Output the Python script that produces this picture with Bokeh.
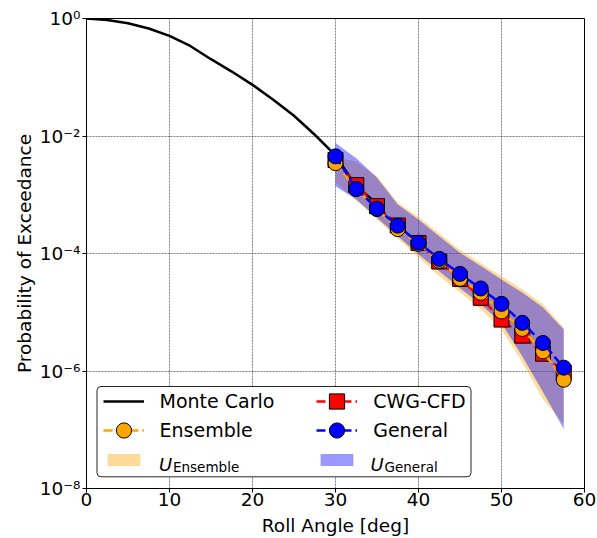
from bokeh.plotting import figure
from bokeh.models import FixedTicker, Legend, LegendItem, Label, BoxAnnotation, Range1d
from bokeh.embed import file_html
from bokeh.resources import INLINE

# ---- data ----
mc_angle = [0, 2.5, 5, 7.5, 10, 12.5, 15, 17.5, 20, 22.5, 25, 27.5, 30, 32.5, 35]
mc_prob = [1.0, 0.94, 0.828, 0.676, 0.505, 0.341, 0.203, 0.125, 0.0743, 0.0413,
           0.0221, 0.0105, 0.00468, 0.00138, 0.00071]

angle = [30, 32.5, 35, 37.5, 40, 42.5, 45, 47.5, 50, 52.5, 55, 57.5]
ensemble = [3.45e-3, 1.25e-3, 5.7e-4, 2.6e-4, 1.46e-4, 7.5e-5, 3.7e-5, 2.14e-5, 1.03e-5, 5.2e-6, 2.16e-6, 7.1e-7]
cwg_cfd = [3.9e-3, 1.46e-3, 6.4e-4, 3.0e-4, 1.51e-4, 7.3e-5, 3.7e-5, 1.76e-5, 7.5e-6, 4.0e-6, 1.97e-6, 9.4e-7]
general = [4.5e-3, 1.26e-3, 5.8e-4, 2.98e-4, 1.53e-4, 8.1e-5, 4.5e-5, 2.54e-5, 1.39e-5, 6.6e-6, 3.0e-6, 1.14e-6]

ens_upper = [4.45e-3, 3.66e-3, 2.06e-3, 7.3e-4, 4.2e-4, 2.19e-4, 1.15e-4, 6.8e-5, 4.1e-5, 2.45e-5, 1.37e-5, 5.5e-6]
ens_lower = [1.61e-3, 7.98e-4, 3.79e-4, 1.80e-4, 8.6e-5, 4.13e-5, 2.19e-5, 1.12e-5, 5.1e-6, 1.42e-6, 3.3e-7, 1.26e-7]
gen_upper = [7.6e-3, 4.2e-3, 1.94e-3, 6.8e-4, 3.8e-4, 1.97e-4, 1.03e-4, 6.1e-5, 3.6e-5, 2.16e-5, 1.2e-5, 5.1e-6]
gen_lower = [1.39e-3, 8.3e-4, 4.06e-4, 1.97e-4, 9.7e-5, 4.97e-5, 2.55e-5, 1.37e-5, 6.5e-6, 1.79e-6, 4.4e-7, 1.03e-7]

x_ticks = [0, 10, 20, 30, 40, 50, 60]
y_ticks = [1e-8, 1e-6, 1e-4, 1e-2, 1.0]
y_tick_labels = ["10⁻⁸", "10⁻⁶", "10⁻⁴", "10⁻²", "10⁰"]

FONT = "DejaVu Sans"

p = figure(width=597, height=538, y_axis_type="log",
           x_range=Range1d(0, 60), y_range=Range1d(1e-8, 1.0),
           output_backend="svg", toolbar_location=None,
           min_border_left=86, min_border_right=13, min_border_top=18, min_border_bottom=48)
p.outline_line_color = "black"
p.outline_line_width = 1
p.background_fill_color = "white"
p.border_fill_color = "white"

# axes
p.xaxis.ticker = FixedTicker(ticks=x_ticks)
p.yaxis.ticker = FixedTicker(ticks=y_ticks)
p.yaxis.major_label_overrides = {t: l for t, l in zip(y_ticks, y_tick_labels)}
for ax in (p.xaxis[0], p.yaxis[0]):
    ax.axis_line_color = "black"
    ax.major_tick_line_color = "black"
    ax.major_tick_out = 4
    ax.major_tick_in = 0
    ax.minor_tick_line_color = None
    ax.major_label_text_font = FONT
    ax.major_label_text_font_size = "18.5px"
    ax.major_label_text_color = "black"
    ax.axis_label_text_font = FONT
    ax.axis_label_text_font_size = "18.5px"
    ax.axis_label_text_font_style = "normal"
    ax.axis_label_text_color = "black"
p.xaxis.axis_label = "Roll Angle [deg]"
p.yaxis.axis_label = "Probability of Exceedance"
p.xaxis.major_label_standoff = 0
p.xaxis.axis_label_standoff = 6
p.yaxis.major_label_standoff = 2
p.yaxis.axis_label_standoff = 2

for g in (p.xgrid[0], p.ygrid[0]):
    g.grid_line_color = "black"
    g.grid_line_alpha = 0.5
    g.grid_line_dash = "2 1"
    g.grid_line_width = 1
p.xgrid.ticker = FixedTicker(ticks=x_ticks)
p.ygrid.ticker = FixedTicker(ticks=y_ticks)

# uncertainty bands
band_ens = p.varea(x=angle, y1=ens_lower, y2=ens_upper, fill_color="orange", fill_alpha=0.4)
band_gen = p.varea(x=angle, y1=gen_lower, y2=gen_upper, fill_color="blue", fill_alpha=0.4)

# monte carlo
mc = p.line(mc_angle, mc_prob, line_color="black", line_width=2.5)

# CWG-CFD
cwg_l = p.line(angle, cwg_cfd, line_color="red", line_width=2.5, line_dash="9 4")
cwg_s = p.scatter(angle, cwg_cfd, marker="square", size=15, fill_color="red",
                  line_color="black", line_width=1)
# Ensemble
ens_l = p.line(angle, ensemble, line_color="orange", line_width=2.5, line_dash="9 4")
ens_s = p.scatter(angle, ensemble, marker="circle", size=15, fill_color="orange",
                  line_color="black", line_width=1)
# General
gen_l = p.line(angle, general, line_color="blue", line_width=2.5, line_dash="9 4")
gen_s = p.scatter(angle, general, marker="circle", size=15, fill_color="blue",
                  line_color="black", line_width=1)

# legend frame
box = BoxAnnotation(left=10.5, right=384.5, top=102, bottom=11.7,
                    left_units="screen", right_units="screen",
                    top_units="screen", bottom_units="screen",
                    fill_color="white", fill_alpha=1.0,
                    line_color="black", line_alpha=0.85, line_width=1,
                    border_radius=4, level="annotation")
p.add_layout(box)


def make_legend(items, x, y, gh, lh):
    leg = Legend(items=items, location=(x, y), orientation="vertical",
                 padding=0, margin=0, spacing=0,
                 glyph_width=41, glyph_height=gh, label_height=lh,
                 label_standoff=16, label_text_font=FONT,
                 label_text_font_size="19px", label_text_color="black",
                 border_line_alpha=0, background_fill_alpha=0)
    p.add_layout(leg)


make_legend([LegendItem(label="Monte Carlo", renderers=[mc])], 16.5, 67.7, 38, 20)
make_legend([LegendItem(label="Ensemble", renderers=[ens_l, ens_s])], 16.5, 39.3, 38, 20)
make_legend([LegendItem(label=" ", renderers=[band_ens])], 16.5, 20.8, 15, 15)
make_legend([LegendItem(label="CWG-CFD", renderers=[cwg_l, cwg_s])], 230.2, 67.7, 38, 20)
make_legend([LegendItem(label="General", renderers=[gen_l, gen_s])], 230.2, 39.3, 38, 20)
make_legend([LegendItem(label=" ", renderers=[band_gen])], 230.2, 20.8, 15, 15)

for ux, sub in ((72.5, "Ensemble"), (284.0, "General")):
    p.add_layout(Label(x=ux, y=24, x_units="screen", y_units="screen", text="U",
                       text_font=FONT, text_font_size="18px", text_font_style="italic",
                       text_baseline="alphabetic", text_color="black"))
    p.add_layout(Label(x=ux + 14, y=22, x_units="screen", y_units="screen", text=sub,
                       text_font=FONT, text_font_size="13.5px",
                       text_baseline="alphabetic", text_color="black"))

open("out.html", "w").write(file_html(p, INLINE))
